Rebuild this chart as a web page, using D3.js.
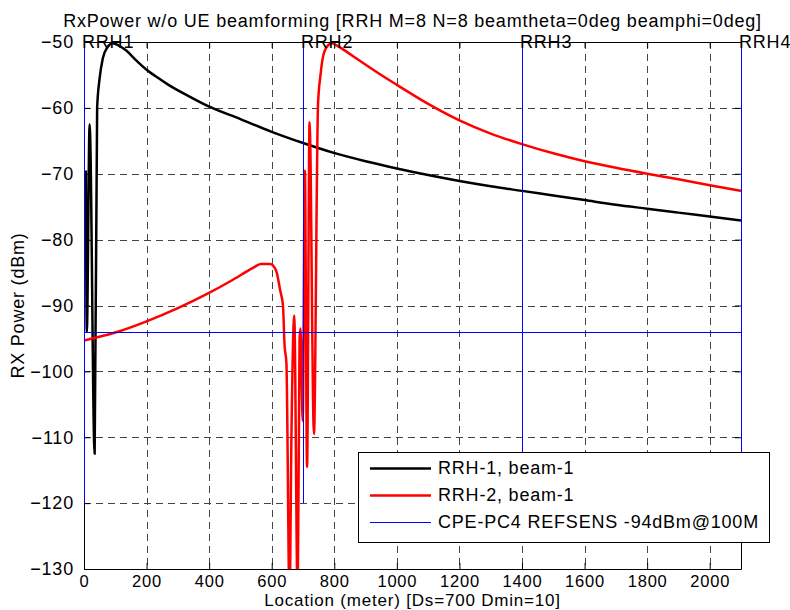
<!DOCTYPE html>
<html>
<head>
<meta charset="utf-8">
<script src="https://cdn.jsdelivr.net/npm/d3@7"></script>
<style>
  body { margin: 0; background: #fff; }
  svg text { font-family: Arial, "Liberation Sans", Helvetica, sans-serif; fill: #000; font-size: 18px; letter-spacing: 0.8px; }
</style>
</head>
<body>
<script>
// RRH-1 beam-1 (black)
var rrh1Loc = [6, 9, 18, 34, 42, 50, 60, 75, 92, 110, 135, 165, 200, 235, 270, 330, 395, 500, 598, 698, 796, 900, 1000, 1100, 1200, 1300, 1400, 1500, 1600, 1700, 1800, 1900, 2000, 2100];
var rrh1Val = [-69.5, -94, -62.5, -112.5, -60, -55.5, -52.5, -50.8, -50.2, -50.5, -51.3, -52.7, -54.2, -55.4, -56.5, -58.1, -59.7, -61.7, -63.6, -65.3, -66.8, -68.1, -69.2, -70.2, -71.1, -71.9, -72.6, -73.3, -74.0, -74.7, -75.3, -75.9, -76.5, -77.1];

// RRH-2 beam-1 (red)
var rrh2Loc = [0, 100, 200, 300, 395, 472, 540, 565, 595, 614, 627, 636, 641, 647, 657, 663, 672, 683, 689, 692, 699, 706, 713, 721, 735, 748, 756, 765, 780, 792, 810, 840, 877, 940, 1000, 1100, 1200, 1300, 1400, 1500, 1600, 1700, 1800, 1900, 2000, 2100];
var rrh2Val = [-95.3, -94.1, -92.4, -90.4, -88.2, -86.2, -84.3, -83.7, -83.7, -84.7, -87.7, -90, -96, -98.7, -135, -110, -91.5, -135, -95, -93.5, -107.5, -69.5, -114.5, -62.2, -109.5, -59.5, -55, -52, -50.5, -50.2, -50.6, -51.5, -52.7, -54.7, -56.5, -59.4, -61.9, -63.9, -65.5, -66.9, -68.1, -69.1, -70.0, -70.85, -71.75, -72.6];

var rrhPos = [0, 700, 1400, 2100];
var rrhNames = ["RRH1", "RRH2", "RRH3", "RRH4"];
var refsens = -94;
var xTicks = [0, 200, 400, 600, 800, 1000, 1200, 1400, 1600, 1800, 2000];
var yTicks = [-130, -120, -110, -100, -90, -80, -70, -60, -50];
var legendNames = ["RRH-1, beam-1", "RRH-2, beam-1", "CPE-PC4 REFSENS -94dBm@100M"];

var w = 790, h = 610;
var margin = {left: 84, right: 741, top: 42, bottom: 569};

var svg = d3.select("body").append("svg")
    .attr("width", w)
    .attr("height", h);

var x = d3.scaleLinear().domain([0, 2100]).range([margin.left, margin.right]);
var y = d3.scaleLinear().domain([-130, -50]).range([margin.bottom, margin.top]);

svg.append("defs").append("clipPath").attr("id", "plotclip")
  .append("rect")
    .attr("x", margin.left).attr("y", margin.top)
    .attr("width", margin.right - margin.left).attr("height", margin.bottom - margin.top);

// grid
var grid = svg.append("g").attr("stroke", "#444").attr("stroke-width", 1).attr("stroke-dasharray", "7,5");
grid.selectAll(".vg")
  .data(xTicks.filter(function(d){ return d > 0; }))
  .enter().append("line")
    .attr("x1", function(d){ return Math.round(x(d)) + 0.5; })
    .attr("x2", function(d){ return Math.round(x(d)) + 0.5; })
    .attr("y1", margin.top).attr("y2", margin.bottom);
grid.selectAll(".hg")
  .data(yTicks.filter(function(d){ return d > -130 && d < -50; }))
  .enter().append("line")
    .attr("y1", function(d){ return Math.round(y(d)) + 0.5; })
    .attr("y2", function(d){ return Math.round(y(d)) + 0.5; })
    .attr("x1", margin.left).attr("x2", margin.right);

var line = d3.line()
    .x(function(d){ return x(d[0]); })
    .y(function(d){ return y(d[1]); })
    .curve(d3.curveMonotoneX);

var plot = svg.append("g").attr("clip-path", "url(#plotclip)");

plot.append("path")
    .datum(d3.zip(rrh1Loc, rrh1Val))
    .attr("fill", "none").attr("stroke", "#000").attr("stroke-width", 2.5)
    .attr("stroke-linejoin", "round")
    .attr("d", line);

plot.append("path")
    .datum(d3.zip(rrh2Loc, rrh2Val))
    .attr("fill", "none").attr("stroke", "#ff0000").attr("stroke-width", 2.5)
    .attr("stroke-linejoin", "round")
    .attr("d", line);

// reference sensitivity line
plot.append("line")
    .attr("x1", x(0)).attr("x2", x(2100))
    .attr("y1", Math.round(y(refsens)) + 0.5).attr("y2", Math.round(y(refsens)) + 0.5)
    .attr("stroke", "#0000ff").attr("stroke-width", 1);

// axes box with inward ticks
var axes = svg.append("g");
axes.append("g")
    .attr("class", "xaxis")
    .attr("transform", "translate(0," + margin.bottom + ")")
    .call(d3.axisBottom(x).tickValues(xTicks).tickFormat(d3.format("d")).tickSizeInner(-6).tickSizeOuter(0).tickPadding(6));
axes.append("g")
    .attr("transform", "translate(0," + margin.top + ")")
    .call(d3.axisTop(x).tickValues(xTicks).tickSizeInner(-6).tickSizeOuter(0).tickFormat(""));
axes.append("g")
    .attr("transform", "translate(" + margin.left + ",0)")
    .call(d3.axisLeft(y).tickValues(yTicks).tickSizeInner(-6).tickSizeOuter(0).tickPadding(10));
axes.append("g")
    .attr("transform", "translate(" + margin.right + ",0)")
    .call(d3.axisRight(y).tickValues(yTicks).tickSizeInner(-6).tickSizeOuter(0).tickFormat(""));
axes.selectAll("path.domain").attr("stroke", "#000");
axes.selectAll(".tick line").attr("stroke", "#000");
axes.selectAll(".tick text").attr("fill", "#000").attr("font-family", null).attr("font-size", null);
axes.selectAll(".xaxis .tick text").style("font-size", "16.5px");

// RRH position lines
svg.selectAll(".rrh")
  .data(rrhPos)
  .enter().append("line")
    .attr("x1", function(d){ return Math.round(x(d)) + 0.5; })
    .attr("x2", function(d){ return Math.round(x(d)) + 0.5; })
    .attr("y1", y(-50)).attr("y2", y(-120))
    .attr("stroke", "#0000ff").attr("stroke-width", 1);

svg.selectAll(".rrhlabel")
  .data(rrhPos)
  .enter().append("text")
    .attr("x", function(d){ return x(d) - 2; })
    .attr("y", margin.top)
    .attr("dy", "0.35em")
    .text(function(d, i){ return rrhNames[i]; });

// titles
svg.append("text")
    .attr("x", (margin.left + margin.right) / 2).attr("y", 27)
    .attr("text-anchor", "middle")
    .text("RxPower w/o UE beamforming [RRH M=8 N=8 beamtheta=0deg beamphi=0deg]");
svg.append("text")
    .attr("x", (margin.left + margin.right) / 2).attr("y", 606)
    .attr("text-anchor", "middle")
    .style("font-size", "17px")
    .text("Location (meter) [Ds=700 Dmin=10]");
svg.append("text")
    .attr("transform", "translate(24," + (margin.top + margin.bottom) / 2 + ") rotate(-90)")
    .attr("text-anchor", "middle")
    .text("RX Power (dBm)");

// legend
var lg = svg.append("g").attr("transform", "translate(358,452)");
lg.append("rect")
    .attr("x", 0.5).attr("y", 0.5).attr("width", 411).attr("height", 90)
    .attr("fill", "#fff").attr("stroke", "#000").attr("stroke-width", 1);
var lColors = ["#000", "#ff0000", "#0000ff"];
var lWidths = [2.5, 2.5, 1];
var rows = lg.selectAll(".lrow")
  .data(legendNames)
  .enter().append("g")
    .attr("transform", function(d, i){ return "translate(0," + (16 + i * 27) + ")"; });
rows.append("line")
    .attr("x1", 12).attr("x2", 73).attr("y1", 0.5).attr("y2", 0.5)
    .attr("stroke", function(d, i){ return lColors[i]; })
    .attr("stroke-width", function(d, i){ return lWidths[i]; });
rows.append("text")
    .attr("x", 80).attr("y", 0).attr("dy", "0.35em")
    .text(function(d){ return d; });
</script>
</body>
</html>
